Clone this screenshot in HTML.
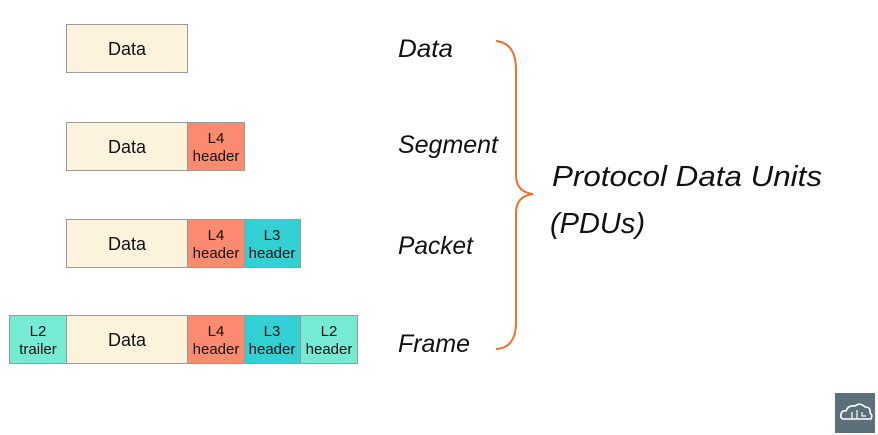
<!DOCTYPE html>
<html><head><meta charset="utf-8"><style>
html,body{margin:0;padding:0;background:#fff;width:878px;height:435px;overflow:hidden}
</style></head><body>
<svg width="878" height="435" xmlns="http://www.w3.org/2000/svg" font-family="Liberation Sans, sans-serif">
<g stroke="#9a9a9a" stroke-width="1">
<rect x="66.5" y="24.5" width="121" height="48" fill="#fdf3dc"/>
<rect x="66.5" y="122.5" width="121" height="48" fill="#fdf3dc"/>
<rect x="187.5" y="122.5" width="57" height="48" fill="#fb8a6e"/>
<rect x="66.5" y="219.5" width="121" height="48" fill="#fdf3dc"/>
<rect x="187.5" y="219.5" width="57" height="48" fill="#fb8a6e"/>
<rect x="244.5" y="219.5" width="56" height="48" fill="#32cfd3"/>
<rect x="9.5" y="315.5" width="57" height="48" fill="#76ebd3"/>
<rect x="66.5" y="315.5" width="121" height="48" fill="#fdf3dc"/>
<rect x="187.5" y="315.5" width="57" height="48" fill="#fb8a6e"/>
<rect x="244.5" y="315.5" width="56" height="48" fill="#32cfd3"/>
<rect x="300.5" y="315.5" width="57" height="48" fill="#76ebd3"/>
</g>
<g fill="#111" font-size="18" text-anchor="middle">
<text x="127" y="55">Data</text>
<text x="127" y="153">Data</text>
<text x="127" y="250">Data</text>
<text x="127" y="346">Data</text>
</g>
<g fill="#111" font-size="15" text-anchor="middle">
<text x="216" y="143">L4</text><text x="216" y="161">header</text>
<text x="216" y="240">L4</text><text x="216" y="258">header</text>
<text x="272" y="240">L3</text><text x="272" y="258">header</text>
<text x="38" y="336">L2</text><text x="38" y="354">trailer</text>
<text x="216" y="336">L4</text><text x="216" y="354">header</text>
<text x="272" y="336">L3</text><text x="272" y="354">header</text>
<text x="329" y="336">L2</text><text x="329" y="354">header</text>
</g>
<g fill="#111" font-size="25" font-style="italic">
<text x="398" y="57" textLength="55" lengthAdjust="spacingAndGlyphs">Data</text>
<text x="398" y="153" textLength="100" lengthAdjust="spacingAndGlyphs">Segment</text>
<text x="398" y="254" textLength="75" lengthAdjust="spacingAndGlyphs">Packet</text>
<text x="398" y="352" textLength="72" lengthAdjust="spacingAndGlyphs">Frame</text>
<text x="552" y="186" font-size="29" textLength="270" lengthAdjust="spacingAndGlyphs">Protocol Data Units</text>
<text x="550" y="233" font-size="29" textLength="95" lengthAdjust="spacingAndGlyphs">(PDUs)</text>
</g>
<path d="M496 41 Q516 43 516 70 L516 175 Q516 192 533 194 Q516 196 516 213 L516 322 Q516 348 496 349" fill="none" stroke="#e8742f" stroke-width="2"/>
<rect x="835" y="393" width="40" height="40" fill="#5b707a"/>
<path d="M844 419 Q840 419 841 414 Q842 410 846 411 Q848 405 855 406 Q860 402 865 407 Q871 407 870 413 Q873 415 871 419 Z" fill="none" stroke="#fff" stroke-width="1.6"/>
<path d="M852 412 L852 419 M857 410 L857 419 M862 412 L862 416 L866 416" stroke="#fff" stroke-width="1.2" fill="none"/>
</svg>
</body></html>
